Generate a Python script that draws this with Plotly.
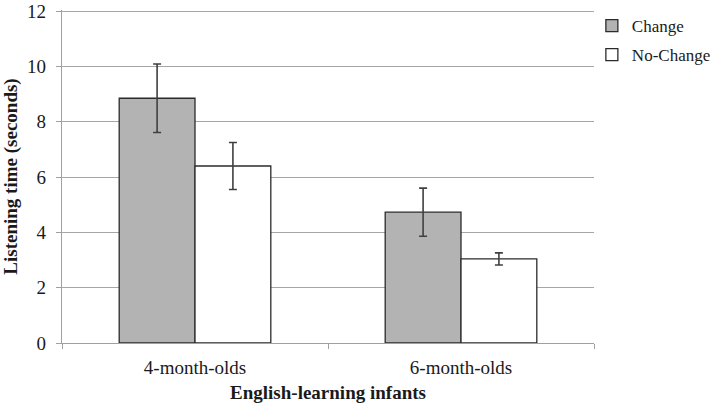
import plotly.graph_objects as go

categories = ["4-month-olds", "6-month-olds"]
change_vals = [8.85, 4.73]
change_err = [1.24, 0.87]
nochange_vals = [6.40, 3.04]
nochange_err = [0.85, 0.22]
y_ticks = [0, 2, 4, 6, 8, 10, 12]

FONT = "Liberation Serif"

fig = go.Figure()
fig.add_trace(go.Bar(
    name="Change", x=categories, y=change_vals, legendgroup="a",
    marker=dict(color="#b3b3b3", line=dict(color="#2b2b2b", width=1.3)),
    error_y=dict(type="data", array=change_err, visible=True,
                 color="#404040", thickness=1.6, width=4),
))
fig.add_trace(go.Bar(
    name="No-Change", x=categories, y=nochange_vals, legendgroup="b",
    marker=dict(color="#ffffff", line=dict(color="#2b2b2b", width=1.3)),
    error_y=dict(type="data", array=nochange_err, visible=True,
                 color="#404040", thickness=1.6, width=4),
))

fig.update_layout(
    width=716, height=409,
    margin=dict(l=62, r=122, t=10, b=66, autoexpand=False),
    paper_bgcolor="white", plot_bgcolor="white",
    barmode="group", bargap=0.43, bargroupgap=0,
    font=dict(family=FONT, size=19, color="#1a1a1a"),
    legend=dict(x=0.996, y=1.006, xanchor="left", yanchor="top",
                font=dict(family=FONT, size=17, color="#1a1a1a"),
                itemwidth=30, tracegroupgap=4, bgcolor="rgba(0,0,0,0)"),
    xaxis=dict(
        automargin=False,
        showline=True, linecolor="#a0a0a0", linewidth=1.3,
        ticks="outside", tickson="boundaries", ticklen=5, tickcolor="#a0a0a0",
        ticklabelstandoff=7,
        tickfont=dict(family=FONT, size=19, color="#1a1a1a"),
        title=dict(text="<b>English-learning infants</b>", standoff=8,
                   font=dict(family=FONT, size=19, color="#1a1a1a")),
    ),
    yaxis=dict(
        automargin=False,
        range=[0, 12.04], tickvals=y_ticks,
        showline=True, linecolor="#a0a0a0", linewidth=1.3,
        ticks="outside", ticklen=5, tickcolor="#a0a0a0",
        showgrid=True, gridcolor="#a6a6a6", gridwidth=1.3,
        zeroline=False,
        tickfont=dict(family=FONT, size=19, color="#1a1a1a"),
        ticklabelstandoff=6,
        title=dict(text="<b>Listening time (seconds)</b>", standoff=8,
                   font=dict(family=FONT, size=19, color="#1a1a1a")),
    ),
)

fig.write_html(
    "out.html",
    config={"displayModeBar": False},
    post_script="document.body.style.margin='0';document.body.style.padding='0';",
)
